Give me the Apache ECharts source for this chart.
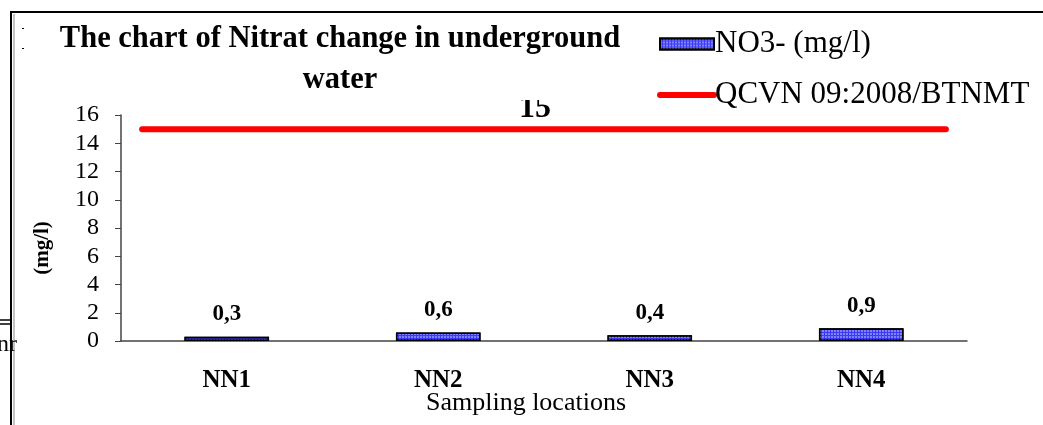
<!DOCTYPE html>
<html>
<head>
<meta charset="utf-8">
<script src="https://cdn.jsdelivr.net/npm/echarts@6/dist/echarts.min.js"></script>
<style>
html,body{margin:0;padding:0;background:#fff;}
#chart{width:1043px;height:425px;}
</style>
</head>
<body>
<div id="chart"></div>
<script>
const categories = ['NN1', 'NN2', 'NN3', 'NN4'];
const no3Values = [0.3, 0.6, 0.4, 0.9];
const limitValue = 15;
const limitStart = 0.1;   // position along category axis (category units)
const limitEnd = 3.9;
const limitLabelAt = 1.957;
const yTicks = [0, 2, 4, 6, 8, 10, 12, 14, 16];

const serif = '"Liberation Serif", "Times New Roman", serif';
const chart = echarts.init(document.getElementById('chart'), null, {renderer: 'canvas'});

const option = {
  backgroundColor: '#fff',
  animation: false,
  title: {
    text: 'The chart of Nitrat change in underground\nwater',
    left: 335,
    top: 14,
    textAlign: 'center',
    textStyle: {fontFamily: serif, fontWeight: 'bold', fontSize: 30.5, lineHeight: 41, color: '#000'}
  },
  legend: {
    orient: 'vertical',
    left: 652,
    top: 22,
    itemWidth: 54,
    itemHeight: 11,
    itemGap: 17,
    textStyle: {fontFamily: serif, fontSize: 31, color: '#000', padding: [0, 0, 0, -4], lineHeight: 34},
    data: [
      {name: 'NO3- (mg/l)', icon: 'rect'},
      {name: 'QCVN 09:2008/BTNMT', itemStyle: {color: 'rgba(0,0,0,0)', borderColor: 'rgba(0,0,0,0)', borderWidth: 0}, lineStyle: {width: 6, color: '#ff0000', cap: 'round'}}
    ]
  },
  grid: {left: 121, right: 76, top: 115, bottom: 84, outerBoundsMode: 'none', containLabel: false},
  xAxis: [{
    type: 'category',
    data: categories,
    name: 'Sampling locations',
    nameLocation: 'middle',
    nameGap: 49,
    nameMoveOverlap: false,
    nameTextStyle: {fontFamily: serif, fontSize: 26, color: '#000', padding: [0, 36, 0, 0]},
    axisLine: {lineStyle: {color: '#444', width: 1.5}},
    axisTick: {show: false},
    axisLabel: {margin: 27, fontFamily: serif, fontWeight: 'bold', fontSize: 25, color: '#000'}
  }, {
    type: 'value',
    min: 0,
    max: categories.length,
    show: false
  }],
  yAxis: {
    type: 'value',
    min: yTicks[0],
    max: yTicks[yTicks.length - 1],
    interval: 2,
    name: '(mg/l)',
    nameLocation: 'middle',
    nameGap: 68,
    nameMoveOverlap: false,
    nameRotate: 90,
    nameTextStyle: {fontFamily: serif, fontWeight: 'bold', fontSize: 21, color: '#000', padding: [0, 40, 0, 0]},
    axisLine: {show: true, lineStyle: {color: '#444', width: 1.5}},
    axisTick: {show: true, length: 6, lineStyle: {color: '#444'}},
    axisLabel: {margin: 22, fontFamily: serif, fontSize: 24, color: '#000'},
    splitLine: {show: false}
  },
  series: [{
    name: 'NO3- (mg/l)',
    type: 'bar',
    data: no3Values,
    barWidth: '40%',
    itemStyle: {
      color: '#3a3af8',
      borderColor: '#000',
      borderWidth: 1.5,
      decal: {
        symbol: 'circle',
        symbolSize: 0.9,
        color: 'rgba(255,255,255,0.55)',
        dashArrayX: [2, 1],
        dashArrayY: [2, 1],
        rotation: 0
      }
    },
    label: {
      show: true,
      position: 'top',
      distance: 11,
      fontFamily: serif,
      fontWeight: 'bold',
      fontSize: 23,
      color: '#000',
      formatter: p => String(p.value).replace('.', ',')
    }
  }, {
    name: 'QCVN 09:2008/BTNMT',
    type: 'line',
    xAxisIndex: 1,
    data: [[limitStart, limitValue], [limitEnd, limitValue]],
    symbol: 'none',
    showSymbol: false,
    lineStyle: {color: '#ff0000', width: 6, cap: 'round'},
    itemStyle: {color: '#ff0000'},
    markPoint: {
      symbol: 'circle',
      symbolSize: 0,
      data: [{coord: [limitLabelAt, limitValue], value: limitValue}],
      label: {
        show: true,
        position: 'top',
        distance: 4,
        fontFamily: serif,
        fontWeight: 'bold',
        fontSize: 32,
        color: '#000',
        formatter: '{c}'
      }
    }
  }],
  graphic: [
    {type: 'rect', z: 100, shape: {x: 495, y: 80, width: 90, height: 20}, style: {fill: '#fff'}},
    {type: 'line', z: 100, shape: {x1: 10, y1: 12, x2: 1043, y2: 12}, style: {stroke: '#000', lineWidth: 2}},
    {type: 'line', z: 100, shape: {x1: 11, y1: 12, x2: 11, y2: 425}, style: {stroke: '#000', lineWidth: 2}},
    {type: 'line', z: 100, shape: {x1: 14, y1: 14, x2: 14, y2: 425}, style: {stroke: '#888', lineWidth: 1}},
    {type: 'line', z: 100, shape: {x1: 0, y1: 320, x2: 12, y2: 320}, style: {stroke: '#000', lineWidth: 1.5}},
    {type: 'line', z: 100, shape: {x1: 0, y1: 324, x2: 12, y2: 324}, style: {stroke: '#000', lineWidth: 1.5}},
    {type: 'rect', z: 100, shape: {x: 22, y: 28, width: 2, height: 1}, style: {fill: '#000'}},
    {type: 'rect', z: 100, shape: {x: 22, y: 48, width: 2, height: 1}, style: {fill: '#000'}},
    {type: 'text', z: 100, left: -3, top: 333, style: {text: 'nr', font: '24px ' + serif, fill: '#000'}}
  ]
};
chart.setOption(option);
</script>
</body>
</html>
